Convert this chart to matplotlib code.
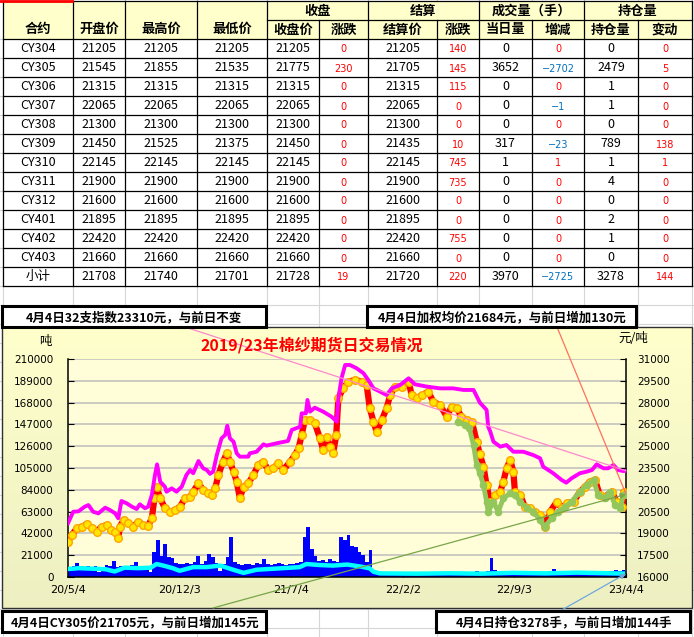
import numpy as np
import pandas as pd
import matplotlib
matplotlib.use('Agg')
import matplotlib.pyplot as plt
import matplotlib.dates as mdates
from matplotlib.patches import Rectangle

plt.rcParams['font.family'] = ['Noto Sans CJK SC', 'DejaVu Sans']

# ---------------- table data ----------------
head_cols = ['合约', '开盘价', '最高价', '最低价', '收盘价', '涨跌', '结算价', '涨跌',
             '当日量', '增减', '持仓量', '变动']
head_groups = ['收盘', '结算', '成交量（手）', '持仓量']
contracts = ['CY304', 'CY305', 'CY306', 'CY307', 'CY308', 'CY309', 'CY310',
             'CY311', 'CY312', 'CY401', 'CY402', 'CY403', '小计']
open_px = [21205, 21545, 21315, 22065, 21300, 21450, 22145, 21900, 21600, 21895, 22420, 21660, 21708]
high_px = [21205, 21855, 21315, 22065, 21300, 21525, 22145, 21900, 21600, 21895, 22420, 21660, 21740]
low_px = [21205, 21535, 21315, 22065, 21300, 21375, 22145, 21900, 21600, 21895, 22420, 21660, 21701]
close_px = [21205, 21775, 21315, 22065, 21300, 21450, 22145, 21900, 21600, 21895, 22420, 21660, 21728]
close_chg = [0, 230, 0, 0, 0, 0, 0, 0, 0, 0, 0, 0, 19]
settle_px = [21205, 21705, 21315, 22065, 21300, 21435, 22145, 21900, 21600, 21895, 22420, 21660, 21720]
settle_chg = [140, 145, 115, 0, 0, 10, 745, 735, 0, 0, 755, 0, 220]
volume = [0, 3652, 0, 0, 0, 317, 1, 0, 0, 0, 0, 0, 3970]
volume_chg = [0, -2702, 0, -1, 0, -23, 1, 0, 0, 0, 0, 0, -2725]
open_int = [0, 2479, 1, 1, 0, 789, 1, 4, 0, 2, 1, 0, 3278]
open_int_chg = [0, 5, 0, 0, 0, 138, 1, 0, 0, 0, 0, 0, 144]

# ---------------- chart data ----------------
title = '2019/23年棉纱期货日交易情况'
box_texts = ['4月4日32支指数23310元，与前日不变',
             '4月4日加权均价21684元，与前日增加130元',
             '4月4日CY305价21705元，与前日增加145元',
             '4月4日持仓3278手，与前日增加144手']
tick_dates = ['2020-05-04', '2020-12-03', '2021-07-04', '2022-02-02', '2022-09-03', '2023-04-04']
tick_labels = ['20/5/4', '20/12/3', '21/7/4', '22/2/2', '22/9/3', '23/4/4']

# 32支指数 (magenta)
idx_dates = ['2020-05-04', '2020-05-14', '2020-05-24', '2020-06-05', '2020-06-12', '2020-06-21',
             '2020-07-01', '2020-07-14', '2020-07-23', '2020-08-02', '2020-08-08', '2020-08-14',
             '2020-08-24', '2020-09-03', '2020-09-12', '2020-09-18', '2020-09-28', '2020-10-04',
             '2020-10-11', '2020-10-17', '2020-10-21', '2020-10-27', '2020-11-05', '2020-11-08',
             '2020-11-18', '2020-11-27', '2020-12-07', '2020-12-16', '2020-12-23', '2020-12-29',
             '2021-01-08', '2021-01-17', '2021-01-24', '2021-01-30', '2021-02-05', '2021-02-12',
             '2021-02-21', '2021-02-28', '2021-03-04', '2021-03-09', '2021-03-16', '2021-03-22',
             '2021-03-28', '2021-04-13', '2021-04-16', '2021-04-29', '2021-05-12', '2021-05-18',
             '2021-06-06', '2021-06-28', '2021-07-05', '2021-07-21', '2021-07-24', '2021-08-01',
             '2021-08-04', '2021-08-09', '2021-08-18', '2021-09-03', '2021-09-19', '2021-09-29',
             '2021-10-02', '2021-10-08', '2021-10-15', '2021-10-24', '2021-11-06', '2021-11-19',
             '2021-11-28', '2021-12-08', '2021-12-21', '2022-01-02', '2022-01-12', '2022-01-28',
             '2022-02-13', '2022-02-25', '2022-03-20', '2022-04-14', '2022-05-09', '2022-05-29',
             '2022-06-17', '2022-06-29', '2022-07-09', '2022-07-12', '2022-07-15', '2022-07-19',
             '2022-07-25', '2022-08-07', '2022-08-19', '2022-09-01', '2022-09-20', '2022-10-09',
             '2022-10-22', '2022-10-28', '2022-11-16', '2022-12-02', '2022-12-11', '2022-12-21',
             '2023-01-06', '2023-01-19', '2023-01-29', '2023-02-07', '2023-02-20', '2023-03-01',
             '2023-03-11', '2023-03-20', '2023-03-30', '2023-04-04']
idx_vals = [19700, 20490, 20520, 20840, 20950, 20490,
            20380, 20770, 20610, 20380, 20040, 21230,
            21070, 20840, 20680, 21000, 20730, 20840,
            21640, 23020, 23750, 22560, 22210, 21870,
            22100, 21870, 22210, 23020, 23360, 23140,
            23980, 23480, 23360, 23100, 23250, 24390,
            25540, 25770, 26410, 25540, 25310, 24510,
            24280, 24280, 24510, 24620, 25130, 25040,
            25200, 25360, 26120, 26340, 27260, 27260,
            28180, 27380, 27650, 27380, 27030, 26690,
            28290, 29670, 30590, 30590, 30360, 30020,
            29560, 28980, 28750, 28520, 28980, 29210,
            29670, 29260, 29100, 28980, 28980, 28870,
            28870, 28000, 27610, 27490, 26340, 26000,
            25310, 24970, 25080, 24620, 24620, 24390,
            24170, 23590, 23140, 22680, 22490, 22790,
            23140, 23250, 23360, 23750, 23480, 23480,
            23710, 23360, 23290, 23310]

# CY305 / 主力价 (red with yellow dots)
cy_dates = ['2020-05-04', '2020-05-11', '2020-05-21', '2020-05-30', '2020-06-09', '2020-06-18',
            '2020-06-28', '2020-07-07', '2020-07-17', '2020-07-26', '2020-08-02', '2020-08-08',
            '2020-08-11', '2020-08-18', '2020-08-27', '2020-09-06', '2020-09-15', '2020-09-25',
            '2020-10-04', '2020-10-11', '2020-10-16', '2020-10-20', '2020-10-27', '2020-11-05',
            '2020-11-15', '2020-11-24', '2020-12-04', '2020-12-13', '2020-12-23', '2020-12-29',
            '2021-01-08', '2021-01-17', '2021-01-27', '2021-02-02', '2021-02-09', '2021-02-15',
            '2021-02-24', '2021-03-03', '2021-03-09', '2021-03-16', '2021-03-22', '2021-03-28',
            '2021-04-04', '2021-04-13', '2021-04-23', '2021-05-02', '2021-05-12', '2021-05-21',
            '2021-05-31', '2021-06-09', '2021-06-19', '2021-07-02', '2021-07-11', '2021-07-18',
            '2021-07-24', '2021-07-30', '2021-08-09', '2021-08-18', '2021-08-28', '2021-09-03',
            '2021-09-10', '2021-09-16', '2021-09-22', '2021-09-28', '2021-10-02', '2021-10-11',
            '2021-10-21', '2021-11-03', '2021-11-16', '2021-11-25', '2021-12-01', '2021-12-08',
            '2021-12-14', '2021-12-24', '2022-01-02', '2022-01-09', '2022-01-18', '2022-01-31',
            '2022-02-13', '2022-02-19', '2022-03-01', '2022-03-10', '2022-03-23', '2022-04-01',
            '2022-04-14', '2022-04-27', '2022-05-06', '2022-05-16', '2022-05-25', '2022-06-04',
            '2022-06-14', '2022-06-23', '2022-06-29', '2022-07-06', '2022-07-12', '2022-07-19',
            '2022-07-28', '2022-08-07', '2022-08-13', '2022-08-19', '2022-08-26', '2022-09-01',
            '2022-09-04', '2022-09-14', '2022-09-23', '2022-10-03', '2022-10-12', '2022-10-22',
            '2022-10-31', '2022-11-10', '2022-11-23', '2022-12-02', '2022-12-12', '2022-12-25',
            '2023-01-06', '2023-01-16', '2023-01-25', '2023-02-04', '2023-02-13', '2023-02-23',
            '2023-03-08', '2023-03-17', '2023-03-27', '2023-04-01', '2023-04-04']
cy_vals = [18400, 18890, 19350, 19460, 19630, 19350,
           19120, 19460, 19580, 19240, 19120, 18660,
           19460, 19920, 19700, 19460, 19810, 19580,
           19530, 20040, 21420, 22210, 21420, 20730,
           20490, 20610, 20840, 21420, 21530, 21870,
           22450, 21990, 21760, 21640, 22100, 23020,
           23940, 24510, 23940, 23250, 22560, 21420,
           22210, 22450, 23020, 23710, 23940, 23360,
           23480, 23820, 23360, 23940, 24390, 24850,
           25770, 26800, 26800, 26580, 25540, 24740,
           25660, 24970, 24510, 25770, 28290, 28980,
           29440, 29560, 29440, 29210, 27610, 26690,
           26000, 26800, 27610, 28520, 29100, 29100,
           29440, 28520, 28290, 28520, 28750, 28060,
           27840, 27030, 27720, 27610, 27030, 26800,
           26690, 25310, 24450, 23600, 22300, 21180,
           21640, 21870, 22560, 23480, 24050, 23250,
           21870, 21640, 20840, 20730, 20490, 20270,
           19460, 20490, 21180, 20730, 21070, 21180,
           21870, 22210, 22560, 22680, 21640, 21530,
           21870, 21180, 20840, 21870, 21705]

# 加权均价 (green)
avg_dates = ['2022-05-18', '2022-05-31', '2022-06-09', '2022-06-17', '2022-06-23', '2022-06-29',
             '2022-07-06', '2022-07-12', '2022-07-15', '2022-07-25', '2022-08-03', '2022-08-13',
             '2022-08-26', '2022-09-04', '2022-09-14', '2022-09-27', '2022-10-09', '2022-10-22',
             '2022-10-31', '2022-11-13', '2022-11-26', '2022-12-09', '2022-12-21', '2023-01-06',
             '2023-01-19', '2023-02-01', '2023-02-10', '2023-02-23', '2023-03-04', '2023-03-14',
             '2023-03-24', '2023-03-30', '2023-04-04']
avg_vals = [26690, 26460, 26230, 25080, 23710, 23140,
            22330, 21180, 20490, 21180, 20490, 21420,
            21760, 21640, 21180, 20730, 20490, 19920,
            19460, 20040, 20490, 20840, 21180, 21870,
            22330, 22680, 21640, 21420, 21870, 20960,
            20730, 21640, 21684]

# 成交量, one bar per week from 2020-05-04 (blue)
vol_start = '2020-05-04'
vol_week = [10000, 11000, 13500, 10500, 10000, 10500, 10000, 11000, 5000, 10000,
            12000, 10500, 15400, 10000, 10500, 11000, 10000, 11500, 14000, 10500,
            10000, 11000, 5000, 24400, 35600, 20000, 31800, 19500, 18000, 13500,
            13000, 12500, 13500, 12500, 14000, 20000, 13000, 15000, 21800, 19500,
            13500, 6000, 13000, 19500, 38800, 14000, 12500, 12000, 12500, 13000,
            12000, 13500, 12500, 17000, 13000, 12000, 12500, 13500, 13000, 12000,
            13000, 12500, 13500, 14000, 38800, 48000, 27000, 20000, 15000, 16000,
            14000, 17000, 15000, 14000, 38800, 36000, 40500, 30000, 28500, 24400,
            21000, 14000, 26000, 4000, 3000, 2500, 3000, 2800, 3500, 3000,
            2500, 3000, 3200, 2800, 3000, 2500, 3000, 3500, 3000, 2800,
            3000, 3500, 3000, 2500, 3000, 3200, 3000, 3500, 3000, 4000,
            4500, 5500, 5000, 4500, 6000, 18000, 7000, 5000, 4500, 4000,
            5000, 5500, 4500, 4000, 4500, 5000, 4000, 4500, 5000, 4000,
            4500, 6000, 8000, 5000, 4500, 4000, 3500, 4000, 4500, 4000,
            3500, 4000, 4500, 5000, 4500, 5000, 6000, 5500, 6000, 6500,
            5500, 7000, 6000]

# 持仓量 (cyan)
oi_dates = ['2020-05-04', '2020-05-25', '2020-06-20', '2020-07-15', '2020-08-01', '2020-08-20',
            '2020-09-15', '2020-10-09', '2020-10-20', '2020-11-02', '2020-11-20', '2020-12-03',
            '2020-12-29', '2021-01-23', '2021-02-19', '2021-03-09', '2021-04-04', '2021-04-29',
            '2021-06-18', '2021-07-20', '2021-08-02', '2021-08-28', '2021-09-22', '2021-10-19',
            '2021-11-14', '2021-12-01', '2021-12-08', '2021-12-20', '2022-03-01', '2022-05-01',
            '2022-07-01', '2022-09-01', '2022-11-01', '2023-01-01', '2023-03-01', '2023-04-04']
oi_vals = [7700, 8500, 8000, 7500, 5300, 9000,
           8500, 9000, 12500, 11000, 8500, 6000,
           9500, 9500, 11000, 8000, 4000, 7000,
           8500, 9500, 12500, 11500, 11000, 12000,
           10000, 8300, 5100, 3500, 3200, 3600,
           3200, 4000, 3500, 4200, 3600, 3278]

# ---------------- figure ----------------
W, H = 694, 637
fig = plt.figure(figsize=(W / 100, H / 100), dpi=100)
fig.patch.set_facecolor('white')

bg = fig.add_axes([0, 0, 1, 1])
bg.axis('off')

col_edges = [3, 73, 125, 197, 267, 319, 368, 437, 479, 532, 584, 638, 692]
row_h = 19
top, mid, head_bot = 1, 20, 39

# spreadsheet grid
for x in col_edges:
    bg.plot([x, x], [0, H], color='#D6D6D6', lw=0.8, zorder=0)
for y in range(head_bot, H, row_h):
    bg.plot([0, W], [y, y], color='#D6D6D6', lw=0.8, zorder=0)
bg.plot([0, 72], [0.8, 0.8], color='red', lw=2, zorder=3)

# header
bg.add_patch(Rectangle((col_edges[0], top), col_edges[-1] - col_edges[0], head_bot - top,
                       fc='#FFFFCC', ec='none', zorder=1))
nrows = len(contracts)
tab_bot = head_bot + nrows * row_h
bg.add_patch(Rectangle((col_edges[0], head_bot), col_edges[-1] - col_edges[0], nrows * row_h,
                       fc='white', ec='none', zorder=1))
lk = dict(color='black', lw=0.9, zorder=2)
bg.plot([col_edges[0], col_edges[-1]], [top, top], **lk)
bg.plot([col_edges[4], col_edges[-1]], [mid, mid], **lk)
for r in range(nrows + 1):
    y = head_bot + r * row_h
    bg.plot([col_edges[0], col_edges[-1]], [y, y], **lk)
for i, x in enumerate(col_edges):
    y0 = mid if i in (5, 7, 9, 11) else top
    bg.plot([x, x], [y0, tab_bot], **lk)

hk = dict(ha='center', va='center', fontsize=9.5, fontweight='bold', zorder=3)
for i in range(4):
    bg.text((col_edges[i] + col_edges[i + 1]) / 2, 29, head_cols[i], **hk)
for g, name in enumerate(head_groups):
    a, b = col_edges[4 + 2 * g], col_edges[6 + 2 * g]
    bg.text((a + b) / 2, 11, name, **hk)
for i in range(4, 12):
    bg.text((col_edges[i] + col_edges[i + 1]) / 2, 29.5, head_cols[i], **hk)

table_cols = [contracts, open_px, high_px, low_px, close_px, close_chg, settle_px,
              settle_chg, volume, volume_chg, open_int, open_int_chg]
for c, values in enumerate(table_cols):
    cx = (col_edges[c] + col_edges[c + 1]) / 2
    for r, v in enumerate(values):
        cy = head_bot + r * row_h + row_h / 2
        if c in (5, 7, 9, 11):
            color = '#0070C0' if v < 0 else '#FF0000'
            txt = str(v).replace('-', '\u2212')
            bg.text(cx, cy + 1, txt, ha='center', va='center', fontsize=7,
                    color=color, family='DejaVu Sans', zorder=3)
        else:
            bg.text(cx, cy, str(v), ha='center', va='center', fontsize=9,
                    color='black', zorder=3)

# chart background
cx0, cx1, cy0, cy1 = 2, 692, 327, 608
c_top = np.array([1.0, 1.0, 0.80])
c_bot = np.array([0.93, 0.94, 0.76])
t = np.linspace(0, 1, 64)[:, None]
grad = (c_top * (1 - t) + c_bot * t)[:, None, :]
bg.imshow(grad, extent=(cx0, cx1, cy1, cy0), aspect='auto', zorder=1)
bg.add_patch(Rectangle((cx0, cy0), cx1 - cx0, cy1 - cy0, fill=False,
                       ec='#303030', lw=1, zorder=2))
bg.set_xlim(0, W)
bg.set_ylim(H, 0)

# ---------------- plot area ----------------
px_l, px_r, px_t, px_b = 68, 626, 359, 577
ax = fig.add_axes([px_l / W, 1 - px_b / H, (px_r - px_l) / W, (px_b - px_t) / H])
ax.set_facecolor('#FFFED8')
ax2 = ax.twinx()

d2n = lambda d: mdates.date2num(pd.to_datetime(d))
wk_x = d2n(pd.date_range(vol_start, periods=len(vol_week), freq='7D'))

ax.yaxis.grid(True, color='#BDBDBD', lw=1.1)
ax.set_axisbelow(True)
ax.bar(wk_x, vol_week, width=7, align='edge', color='#0000FF', lw=0, zorder=2)
ax.plot(d2n(oi_dates), oi_vals, color='#00FFFF', lw=3.2, zorder=3)

ax2.plot(d2n(cy_dates), cy_vals, color='#FF0000', lw=4.5, marker='o', ms=5.5,
         mfc='#FFE600', mec='#FFA500', mew=1.0, zorder=3)
ax2.plot(d2n(avg_dates), avg_vals, color='#93C75C', lw=3.5, marker='o', ms=4.5,
         mfc='#93C75C', mec='#93C75C', zorder=4)
ax2.plot(d2n(idx_dates), idx_vals, color='#FF00FF', lw=2.8, zorder=5)

ax.set_xlim(d2n(tick_dates[0]), d2n(tick_dates[-1]))
ax.set_ylim(0, 210000)
ax.set_yticks(range(0, 210001, 21000))
ax2.set_ylim(16000, 31000)
ax2.set_yticks(range(16000, 31001, 1500))
ax.set_xticks(d2n(tick_dates))
ax.set_xticklabels(tick_labels)

for a in (ax, ax2):
    for s in a.spines.values():
        s.set_visible(False)
ax.spines['left'].set_visible(True)
ax.spines['bottom'].set_visible(True)
ax2.spines['right'].set_visible(True)
for s in (ax.spines['left'], ax.spines['bottom'], ax2.spines['right']):
    s.set_color('black')
    s.set_linewidth(1.1)

ax.tick_params(axis='y', direction='in', length=4, pad=10.5, labelsize=7.5,
               labelfontfamily='DejaVu Sans')
ax2.tick_params(axis='y', direction='in', length=4, pad=8, labelsize=7.5,
                labelfontfamily='DejaVu Sans')
ax.tick_params(axis='x', direction='in', length=3, pad=6, labelsize=8,
               labelfontfamily='DejaVu Sans')

# ---------------- overlay: title, labels, boxes, connectors ----------------
fg = fig.add_axes([0, 0, 1, 1], zorder=5)
fg.axis('off')
fg.set_xlim(0, W)
fg.set_ylim(H, 0)

fg.text(312, 345, title, color='#FF0000', fontsize=11.5, fontweight='bold',
        ha='center', va='center')
fg.text(45, 342, '吨', fontsize=9, ha='center', va='center')
fg.text(633, 338, '元/吨', fontsize=9, ha='center', va='center')

links = [((185, 327), (d2n(idx_dates[-1]), idx_vals[-1]), ax2, '#FF88CC', '-'),
         ((557, 327), (d2n(cy_dates[-1]), cy_vals[-1]), ax2, '#FF7060', '-'),
         ((213, 608), (d2n(avg_dates[-1]), avg_vals[-1]), ax2, '#77A548', '-|>'),
         ((560, 611), (d2n(oi_dates[-1]), oi_vals[-1]), ax, '#6FA8DC', '-|>')]
for start, end, tax, color, style in links:
    fg.annotate('', xy=end, xycoords=tax.transData, xytext=start, textcoords=fg.transData,
                annotation_clip=False,
                arrowprops=dict(arrowstyle=style, color=color, lw=0.9,
                                shrinkA=0, shrinkB=0, mutation_scale=8), zorder=1)

boxes = [(2, 306, 266.5, 327), (367.5, 306, 636.5, 327),
         (2, 611, 266.5, 632), (436.5, 611, 690, 632)]
text_x = [134, 502, 135, 564]
for (x0, y0, x1, y1), tx, s in zip(boxes, text_x, box_texts):
    fg.add_patch(Rectangle((x0, y0), x1 - x0, y1 - y0, fc='white', ec='black',
                           lw=2.2, zorder=3))
    fg.text(tx, (y0 + y1) / 2 + 1, s, ha='center', va='center', fontsize=9,
            fontweight='bold', zorder=4)

fig.savefig('out.png', dpi=100)
